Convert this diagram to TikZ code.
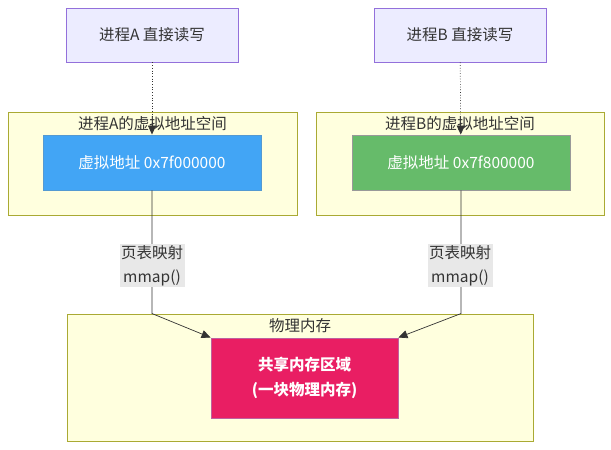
\documentclass[tikz,border=0pt]{standalone}
\usepackage{fontspec}
\setmainfont{Noto Sans CJK SC}
\usepackage{xcolor}
\definecolor{mmpurple}{HTML}{ECECFF}
\definecolor{mmpurpleline}{HTML}{9370DB}
\definecolor{mmyellow}{HTML}{FFFFDE}
\definecolor{mmyellowline}{HTML}{AAAA33}
\definecolor{mmblue}{HTML}{42A5F5}
\definecolor{mmgreen}{HTML}{66BB6A}
\definecolor{mmpink}{HTML}{E91E63}
\definecolor{mmlabel}{HTML}{E8E8E8}
\definecolor{mmtext}{HTML}{333333}
\usetikzlibrary{arrows.meta,positioning}

\begin{document}
\begin{tikzpicture}[x=1pt,y=-1pt,
  font=\fontsize{15.5}{19}\selectfont,text=mmtext,
  proc/.style={draw=mmpurpleline,fill=mmpurple,line width=0.9pt,minimum width=172pt,minimum height=54pt,inner sep=0pt},
  group/.style={draw=mmyellowline,fill=mmyellow,line width=0.9pt,inner sep=0pt},
  addr/.style={draw=#1!70!gray,fill=#1,line width=0.9pt,minimum width=218pt,minimum height=55pt,inner sep=0pt,text=white},
  maplbl/.style={fill=mmlabel,align=center,inner sep=1.5pt,font=\fontsize{15.5}{24}\selectfont},
  link/.style={draw=mmtext,line width=0.7pt,-{Triangle[length=9pt,width=8pt]}}]
  \useasboundingbox (0,0) rectangle (611,450);
  % process nodes
  \node[proc] (pa) at (152,35) {进程A 直接读写};
  \node[proc] (pb) at (460,35) {进程B 直接读写};
  % virtual address spaces
  \node[group,minimum width=289pt,minimum height=103pt] (vsa) at (152.5,163.5) {};
  \node[group,minimum width=288pt,minimum height=103pt] (vsb) at (460,163.5) {};
  \node[below=1pt of vsa.north] (vsatitle) {进程A的虚拟地址空间};
  \node[below=1pt of vsb.north] (vsbtitle) {进程B的虚拟地址空间};
  \node[addr=mmblue] (va) at (152,162.5) {虚拟地址 0x7f000000};
  \node[addr=mmgreen,draw=gray!80] (vb) at (461,162.5) {虚拟地址 0x7f800000};
  % physical memory
  \node[group,minimum width=466pt,minimum height=127pt] (phys) at (300,377.5) {};
  \node[below=1pt of phys.north] (phystitle) {物理内存};
  \node[draw=violet!50!pink,fill=mmpink,line width=0.9pt,minimum width=187pt,minimum height=80pt,
    align=center,text=white,font=\fontsize{15.5}{25}\selectfont\bfseries] (shm) at (304.5,378) {共享内存区域\\(一块物理内存)};
  % connectors
  \draw[link,dotted] (pa) -- (va);
  \draw[link,dotted] (pb) -- (vb);
  \draw[link] (va.south) -- (va.south |- phys.north) -- (shm.north west);
  \draw[link] (vb.south) -- (vb.south |- phys.north) -- (shm.north east);
  \node[maplbl] (mapa) at (152,265.5) {页表映射\\mmap()};
  \node[maplbl] (mapb) at (460,265.5) {页表映射\\mmap()};
\end{tikzpicture}
\end{document}
